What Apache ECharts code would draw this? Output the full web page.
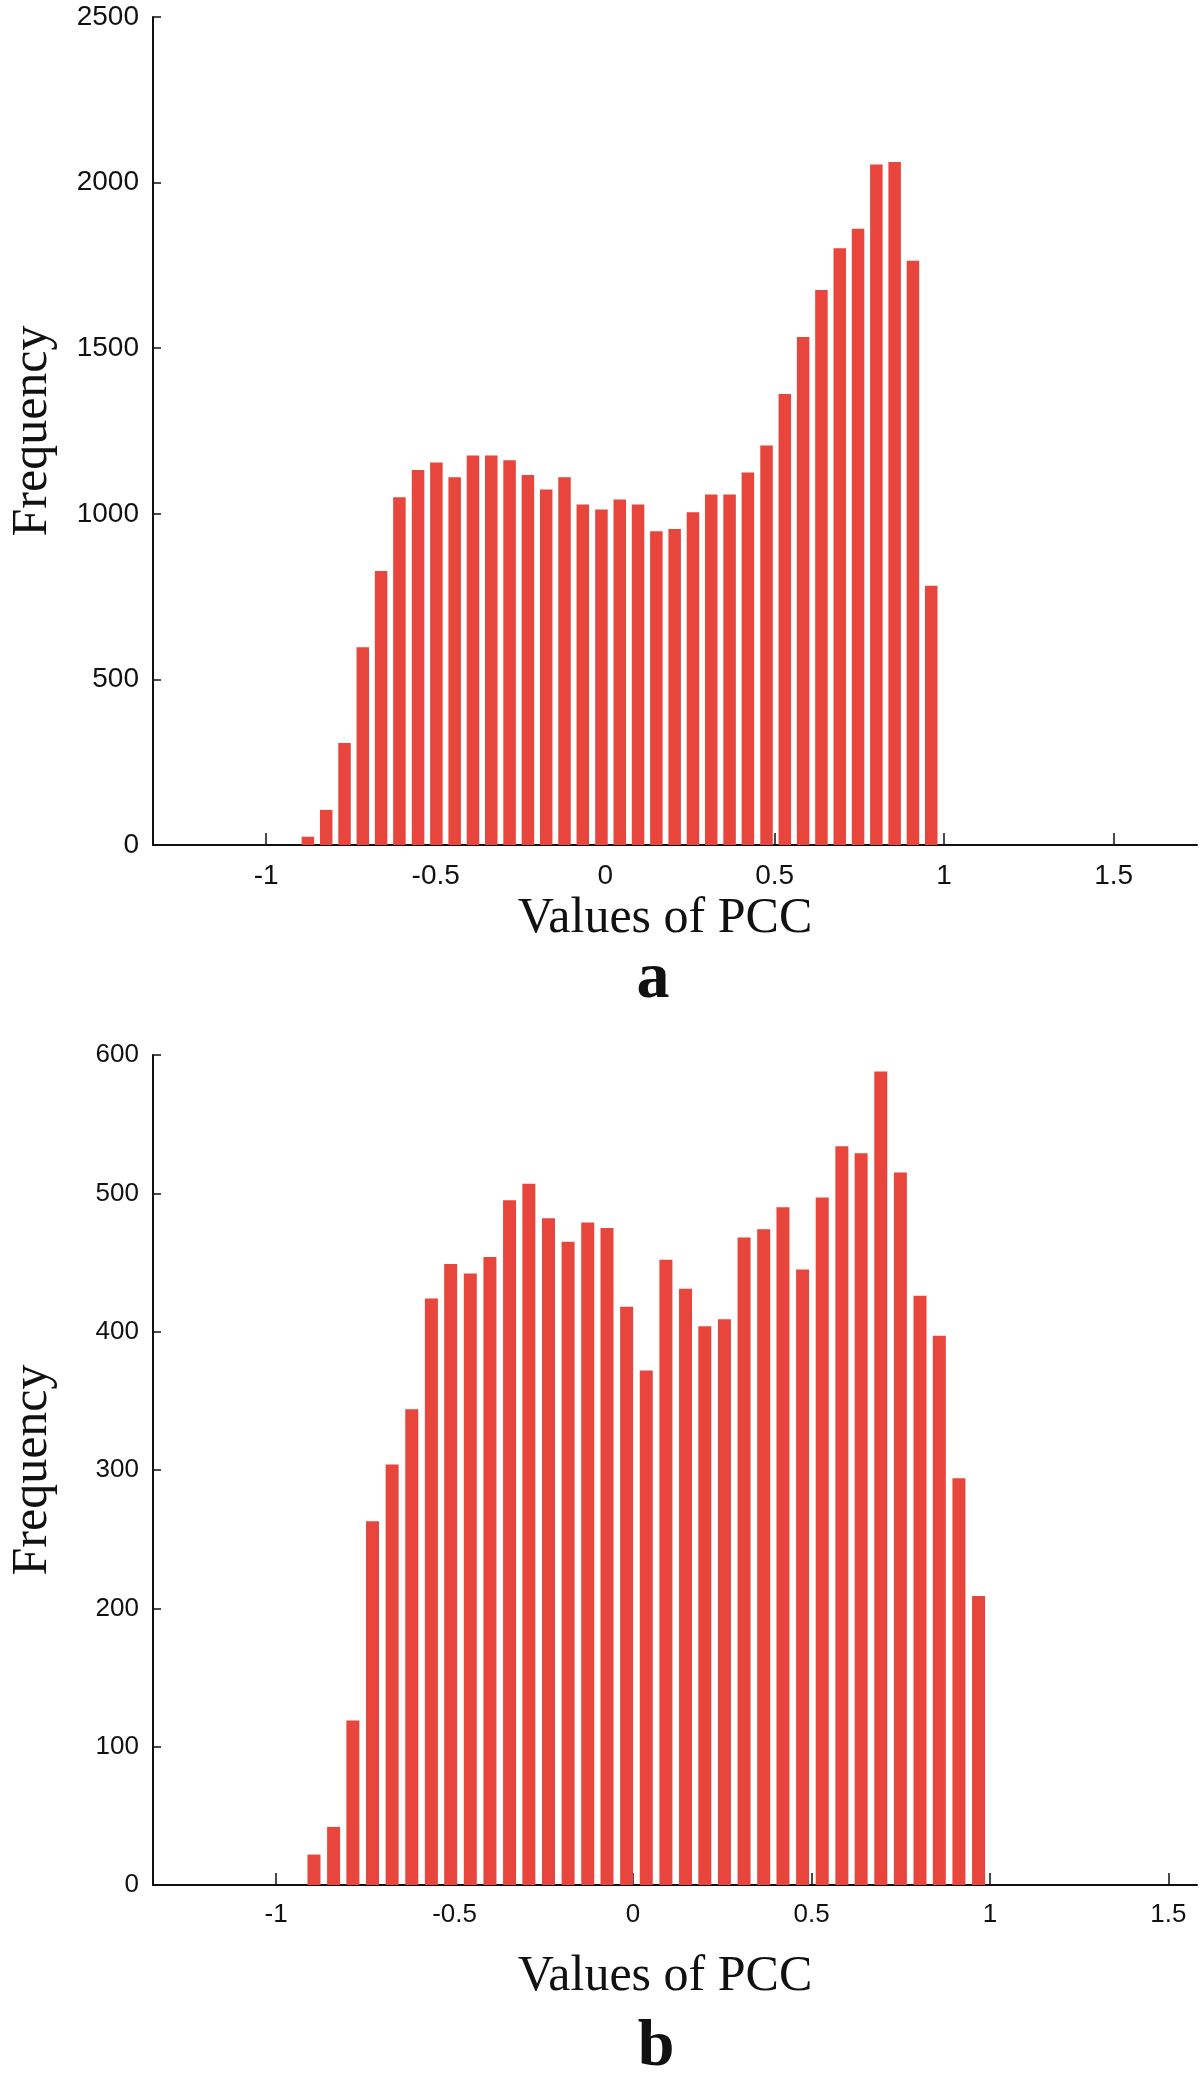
<!DOCTYPE html>
<html>
<head>
<meta charset="utf-8">
<script src="https://cdn.jsdelivr.net/npm/echarts@6/dist/echarts.min.js"></script>
<style>
html,body{margin:0;padding:0;background:#fff;}
#chart{width:1200px;height:2078px;}
</style>
</head>
<body>
<div id="chart"></div>
<script>
// Panel a: bin centres and counts
const binsA = [-0.877,-0.823,-0.769,-0.715,-0.661,-0.607,-0.552,-0.498,-0.444,-0.390,-0.336,-0.282,-0.228,-0.174,-0.120,-0.066,-0.011,0.043,0.097,0.151,0.205,0.259,0.313,0.367,0.421,0.476,0.530,0.584,0.638,0.692,0.746,0.800,0.854,0.908,0.962];
const countsA = [25,106,308,597,827,1050,1132,1155,1110,1176,1176,1162,1117,1073,1110,1028,1013,1043,1028,947,954,1005,1058,1058,1125,1206,1362,1534,1676,1802,1861,2055,2062,1764,783];
// Panel b: bin centres and counts
const binsB = [-0.894,-0.839,-0.785,-0.730,-0.675,-0.620,-0.565,-0.511,-0.456,-0.401,-0.346,-0.292,-0.237,-0.182,-0.127,-0.073,-0.018,0.037,0.092,0.147,0.201,0.256,0.311,0.366,0.420,0.475,0.530,0.585,0.639,0.694,0.749,0.804,0.858,0.913,0.968];
const countsB = [22,42,119,263,304,344,424,449,442,454,495,507,482,465,479,475,418,372,452,431,404,409,468,474,490,445,497,534,529,588,515,426,397,294,209];
// Tick labels
const xTicks = [-1,-0.5,0,0.5,1,1.5];
const xTitle = 'Values of PCC';
const yTitle = 'Frequency';
const panelLabels = ['a','b'];

const RED = '#E8453D';
const sans = 'Liberation Sans';
const serif = 'Liberation Serif';

function xAxisCfg(gridIndex, min, max, nameGap, fs){
  return {
    type:'value', gridIndex, min, max,
    name: xTitle, nameLocation:'middle', nameGap,
    nameTextStyle:{fontFamily:serif, fontSize:50, color:'#111', padding:[0,20,0,0]},
    axisLine:{show:true, onZero:false, lineStyle:{color:'#111', width:2}},
    axisTick:{show:true, inside:true, length:12, customValues:xTicks, lineStyle:{color:'#111', width:1.5}},
    axisLabel:{show:true, customValues:xTicks, margin:17, fontFamily:sans, fontSize:fs, color:'#111',
               formatter:v=>String(v)},
    splitLine:{show:false}
  };
}
function yAxisCfg(gridIndex, max, interval, nameGap, fs){
  return {
    type:'value', gridIndex, min:0, max, interval,
    name: yTitle, nameLocation:'middle', nameGap, nameRotate:90,
    nameTextStyle:{fontFamily:serif, fontSize:50, color:'#111'},
    axisLine:{show:true, onZero:false, lineStyle:{color:'#111', width:2}},
    axisTick:{show:true, inside:true, length:8, lineStyle:{color:'#111', width:1.5}},
    axisLabel:{show:true, margin:14, fontFamily:sans, fontSize:fs, color:'#111',
               formatter:v=>String(v)},
    splitLine:{show:false}
  };
}

const chart = echarts.init(document.getElementById('chart'), null, {renderer:'canvas'});
chart.setOption({
  animation:false,
  backgroundColor:'#fff',
  title:[
    {text:panelLabels[0], left:648, top:942, textAlign:'center',
     textStyle:{fontFamily:serif, fontWeight:'bold', fontSize:66, color:'#111'}},
    {text:panelLabels[1], left:651, top:2010, textAlign:'center',
     textStyle:{fontFamily:serif, fontWeight:'bold', fontSize:66, color:'#111'}}
  ],
  grid:[
    {left:147, top:17, width:1050, height:828},
    {left:147, top:1055, width:1050, height:830}
  ],
  xAxis:[ xAxisCfg(0, -1.334, 1.746, 49, 28), xAxisCfg(1, -1.345, 1.58, 67, 26) ],
  yAxis:[ yAxisCfg(0, 2500, 500, 95, 28), yAxisCfg(1, 600, 100, 95, 26) ],
  series:[
    {type:'bar', xAxisIndex:0, yAxisIndex:0, barWidth:12.5,
     itemStyle:{color:RED}, data: binsA.map((x,i)=>[x, countsA[i]])},
    {type:'bar', xAxisIndex:1, yAxisIndex:1, barWidth:13,
     itemStyle:{color:RED}, data: binsB.map((x,i)=>[x, countsB[i]])}
  ]
});
</script>
</body>
</html>
